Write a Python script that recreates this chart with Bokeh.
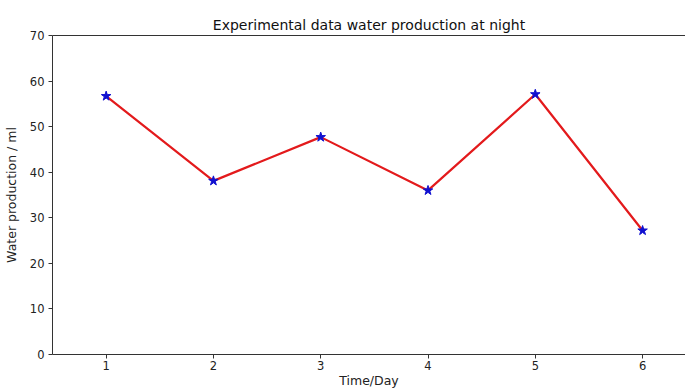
from bokeh.plotting import figure
from bokeh.models import Range1d, LinearAxis, FixedTicker
from bokeh.embed import file_html
from bokeh.resources import INLINE

days = [1, 2, 3, 4, 5, 6]
water_ml = [56.7, 38.1, 47.7, 36.0, 57.1, 27.2]
y_ticks = [0, 10, 20, 30, 40, 50, 60, 70]

FONT = "DejaVu Sans"
AXC = "#333333"

p = figure(width=685, height=390, output_backend="svg", toolbar_location=None,
           x_range=Range1d(0.5, 6.4), y_range=Range1d(0, 70),
           min_border_left=51, min_border_right=0, min_border_top=35,
           min_border_bottom=10)
p.title.text = "Experimental data water production at night"
p.title.align = "center"
p.title.text_font = FONT
p.title.text_font_size = "14px"
p.title.text_font_style = "normal"
p.title.text_color = "#111111"
p.title.standoff = 6

p.outline_line_color = None
p.grid.grid_line_color = None

for ax in (p.xaxis[0], p.yaxis[0]):
    ax.axis_line_color = AXC
    ax.major_tick_line_color = AXC
    ax.minor_tick_line_color = None
    ax.major_tick_out = 4
    ax.major_tick_in = 0
    ax.major_label_text_font = FONT
    ax.major_label_text_font_size = "11.5px"
    ax.major_label_text_color = "#222222"
    ax.axis_label_text_font = FONT
    ax.axis_label_text_font_size = "12.5px"
    ax.axis_label_text_font_style = "normal"
    ax.axis_label_text_color = "#222222"

p.xaxis[0].ticker = FixedTicker(ticks=days)
p.yaxis[0].ticker = FixedTicker(ticks=y_ticks)
p.xaxis[0].axis_label = "Time/Day"
p.yaxis[0].axis_label = "Water production / ml"
p.xaxis[0].major_label_standoff = 2
p.xaxis[0].axis_label_standoff = 0
p.yaxis[0].major_label_standoff = 4
p.yaxis[0].axis_label_standoff = 8

top = LinearAxis(ticker=FixedTicker(ticks=[]), major_label_text_font_size="0px",
                 axis_line_color=AXC, major_tick_line_color=None,
                 minor_tick_line_color=None)
p.add_layout(top, "above")

p.line(days, water_ml, line_color="#e31a1c", line_width=2.2)
p.scatter(days, water_ml, marker="star", size=10, fill_color="#1010d0",
          line_color="#1010d0")

open("out.html", "w").write(file_html(p, INLINE))
